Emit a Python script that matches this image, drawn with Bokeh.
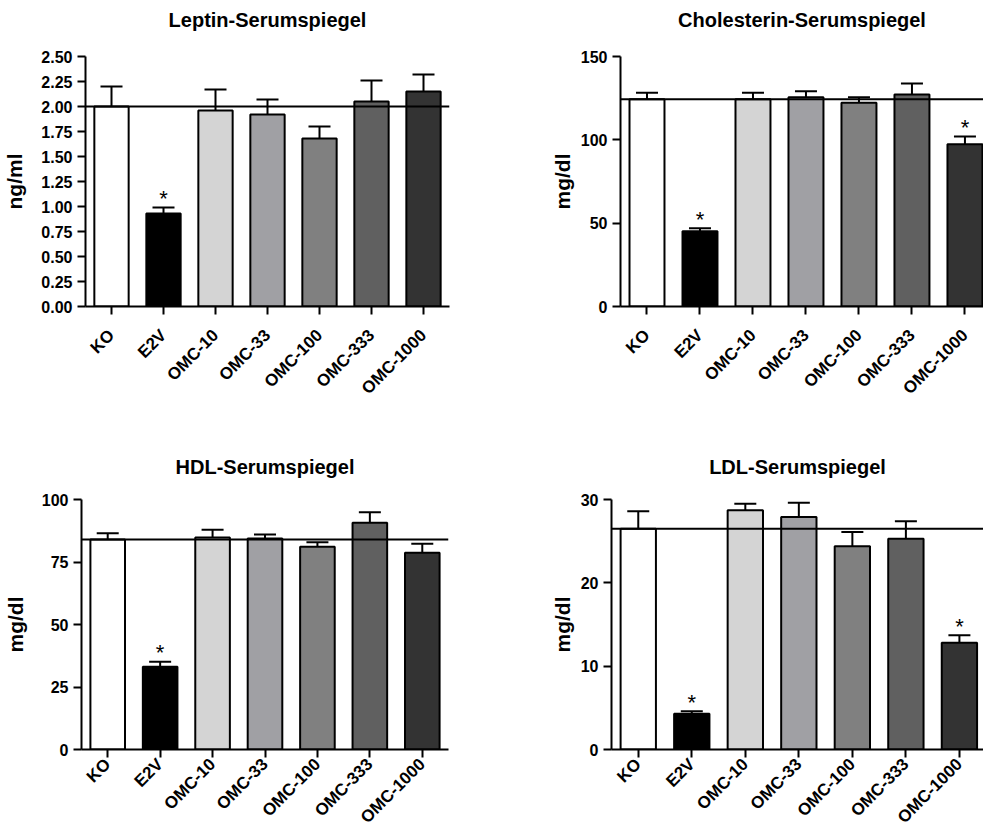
import numpy as np
from bokeh.plotting import figure
from bokeh.models import (Range1d, FixedTicker, Span, Whisker, ColumnDataSource,
                          TeeHead, NumeralTickFormatter, LinearAxis)
from bokeh.layouts import column, row
from bokeh.embed import file_html
from bokeh.resources import INLINE
from bokeh.core.properties import value

groups = ["KO", "E2V", "OMC-10", "OMC-33", "OMC-100", "OMC-333", "OMC-1000"]
bar_colors = ["#ffffff", "#000000", "#d4d4d4", "#a0a0a4", "#808080", "#606060", "#333333"]

leptin_mean = [2.00, 0.93, 1.96, 1.92, 1.68, 2.05, 2.15]
leptin_upper = [2.20, 0.99, 2.17, 2.07, 1.80, 2.26, 2.32]
leptin_sig = [False, True, False, False, False, False, False]
leptin_ticks = [0.0, 0.25, 0.5, 0.75, 1.0, 1.25, 1.5, 1.75, 2.0, 2.25, 2.5]

chol_mean = [124.4, 45.2, 124.4, 125.6, 122.2, 127.2, 97.4]
chol_upper = [128.2, 47.0, 128.2, 129.2, 125.6, 133.8, 102.0]
chol_sig = [False, True, False, False, False, False, True]
chol_ticks = [0, 50, 100, 150]

hdl_mean = [84.0, 33.1, 84.8, 84.4, 81.1, 90.7, 78.7]
hdl_upper = [86.5, 35.1, 87.9, 86.0, 82.9, 94.9, 82.3]
hdl_sig = [False, True, False, False, False, False, False]
hdl_ticks = [0, 25, 50, 75, 100]

ldl_mean = [26.5, 4.3, 28.7, 27.9, 24.4, 25.3, 12.8]
ldl_upper = [28.6, 4.6, 29.5, 29.6, 26.1, 27.4, 13.7]
ldl_sig = [False, True, False, False, False, False, True]
ldl_ticks = [0, 10, 20, 30]

FONT = "Liberation Sans"


def make_panel(title, means, uppers, sig, yticks, ylabel, width, height,
               borders, xend, title_standoff, xlab_standoff, ylab_standoff, fmt=None):
    left, right, top, bottom = borders
    p = figure(width=width, height=height, output_backend="svg", toolbar_location=None,
               x_range=Range1d(-0.5, xend), y_range=Range1d(yticks[0], yticks[-1]),
               min_border_left=left, min_border_right=right,
               min_border_top=top, min_border_bottom=bottom)
    p.outline_line_color = None
    p.grid.visible = False
    p.background_fill_color = "white"
    p.border_fill_color = "white"

    xax = p.below[0]
    yax = p.left[0]

    x = list(range(len(groups)))
    src = ColumnDataSource(dict(x=x, mean=means, upper=uppers, color=bar_colors))
    p.vbar(x="x", top="mean", bottom=0, width=0.66, source=src,
           fill_color="color", line_color="black", line_width=2)
    w = Whisker(base="x", lower="mean", upper="upper", source=src,
                line_width=2, line_color="black",
                upper_head=TeeHead(size=22, line_width=2, line_color="black"),
                lower_head=None)
    p.add_layout(w)
    p.add_layout(Span(location=means[0], dimension="width",
                      line_color="black", line_width=2))

    sx = [i for i, s in enumerate(sig) if s]
    sy = [uppers[i] for i, s in enumerate(sig) if s]
    if sx:
        p.text(x=sx, y=sy, text=["*"] * len(sx), text_align="center",
               text_baseline="alphabetic", y_offset=-9,
               text_font=value(FONT), text_font_size="22px", text_color="black")

    for ax in (xax, yax):
        ax.axis_line_width = 2
        ax.major_tick_line_width = 2
        ax.major_tick_out = 8
        ax.major_tick_in = 0
        ax.minor_tick_line_color = None
        ax.major_label_text_font = FONT
        ax.major_label_text_font_style = "bold"
        ax.major_label_text_color = "black"
        ax.axis_line_color = "black"
        ax.major_tick_line_color = "black"

    xax.ticker = FixedTicker(ticks=x)
    xax.major_label_overrides = {i: g for i, g in enumerate(groups)}
    xax.major_label_orientation = np.pi / 4
    xax.major_label_standoff = xlab_standoff
    xax.major_label_text_font_size = "17px"

    yax.ticker = FixedTicker(ticks=yticks)
    if fmt:
        yax.formatter = NumeralTickFormatter(format=fmt)
    yax.major_label_text_font_size = "16px"
    yax.axis_label = ylabel
    yax.axis_label_text_font = FONT
    yax.axis_label_text_font_style = "bold"
    yax.axis_label_text_font_size = "21px"
    yax.axis_label_text_color = "black"
    yax.axis_label_standoff = ylab_standoff
    yax.major_label_standoff = 5

    # title drawn as the label of an empty axis above the frame
    tax = LinearAxis(ticker=FixedTicker(ticks=[]), axis_label=title,
                     axis_line_color=None, major_tick_line_color=None,
                     minor_tick_line_color=None, major_tick_out=0, major_tick_in=0,
                     major_label_standoff=0, axis_label_standoff=title_standoff,
                     axis_label_text_font=FONT, axis_label_text_font_size="20px",
                     axis_label_text_font_style="bold", axis_label_text_color="black")
    p.add_layout(tax, "above")
    return p


p1 = make_panel("Leptin-Serumspiegel", leptin_mean, leptin_upper, leptin_sig,
                leptin_ticks, "ng/ml", 490, 420, (75, 41, 56, 114), 6.5, 26, 18, 12, "0.00")
p2 = make_panel("Cholesterin-Serumspiegel", chol_mean, chol_upper, chol_sig,
                chol_ticks, "mg/dl", 493, 420, (130, 0, 56, 114), 6.35, 26, 18, 4)
p3 = make_panel("HDL-Serumspiegel", hdl_mean, hdl_upper, hdl_sig,
                hdl_ticks, "mg/dl", 490, 416, (74, 42, 79, 87), 6.5, 22, 4, 12)
p4 = make_panel("LDL-Serumspiegel", ldl_mean, ldl_upper, ldl_sig,
                ldl_ticks, "mg/dl", 493, 416, (121, 0, 79, 87), 6.45, 22, 4, 4)

layout = column(row(p1, p2), row(p3, p4))
open("out.html", "w").write(file_html(layout, INLINE))
